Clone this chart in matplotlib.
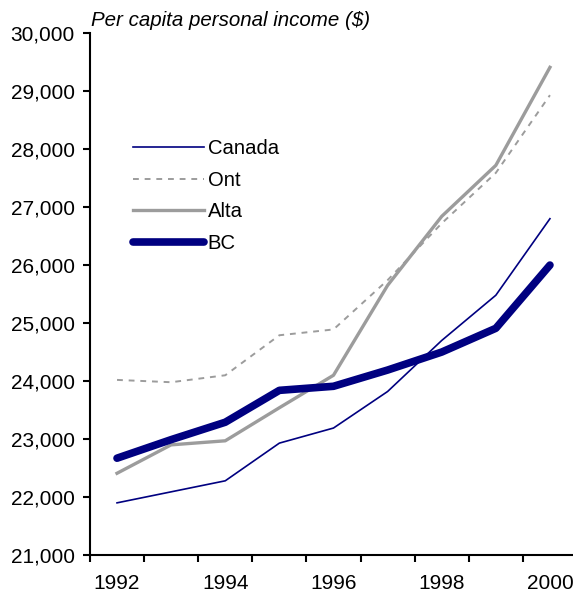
import matplotlib.pyplot as plt

years = [1992, 1993, 1994, 1995, 1996, 1997, 1998, 1999, 2000]
canada = [21900, 22090, 22280, 22930, 23190, 23820, 24700, 25480, 26800]
ont = [24020, 23980, 24100, 24790, 24890, 25740, 26720, 27590, 28930]
alta = [22410, 22900, 22970, 23540, 24100, 25650, 26840, 27720, 29410]
bc = [22670, 22990, 23290, 23840, 23910, 24190, 24500, 24910, 26000]
year_labels = ["1992", "1994", "1996", "1998", "2000"]

plt.rcParams['font.family'] = ['Liberation Sans', 'DejaVu Sans']

fig = plt.figure(figsize=(5.73, 6.02), dpi=100)
ax = fig.add_axes([0.157, 0.078, 0.85, 0.867])

navy = "#000080"
grey = "#9c9c9c"
pos = list(range(len(years)))

ax.plot(pos, canada, color=navy, lw=1.2, label="Canada")
ax.plot(pos, ont, color=grey, lw=1.4, dashes=(3, 3), label="Ont")
ax.plot(pos, alta, color=grey, lw=2.4, label="Alta")
ax.plot(pos, bc, color=navy, lw=5.5, solid_capstyle="round", label="BC")

ax.set_xlim(-0.5, 8.5)
ax.set_ylim(21000, 30000)
ax.set_yticks(range(21000, 30001, 1000))
ax.set_yticklabels([f"{v:,}" for v in range(21000, 30001, 1000)], fontsize=15)

# tick marks between categories, labels every other year
ax.set_xticks([p - 0.5 for p in pos] + [8.5])
ax.set_xticklabels([])
ax.set_xticks([0, 2, 4, 6, 8], minor=True)
ax.set_xticklabels(year_labels, minor=True, fontsize=15)
ax.tick_params(axis="x", which="minor", length=0, pad=14)
ax.tick_params(axis="both", which="major", length=5, width=1.5)
ax.tick_params(axis="y", pad=6)

for side in ["top", "right"]:
    ax.spines[side].set_visible(False)
for side in ["left", "bottom"]:
    ax.spines[side].set_linewidth(1.5)

ax.text(0.002, 1.006, "Per capita personal income ($)", transform=ax.transAxes,
        fontsize=14.8, style="italic", ha="left", va="bottom")

ax.legend(loc="upper left", bbox_to_anchor=(0.05, 0.832), frameon=False,
          fontsize=14.6, handlelength=3.5, handletextpad=0.2, labelspacing=0.62)

fig.savefig("out.png", dpi=100)
